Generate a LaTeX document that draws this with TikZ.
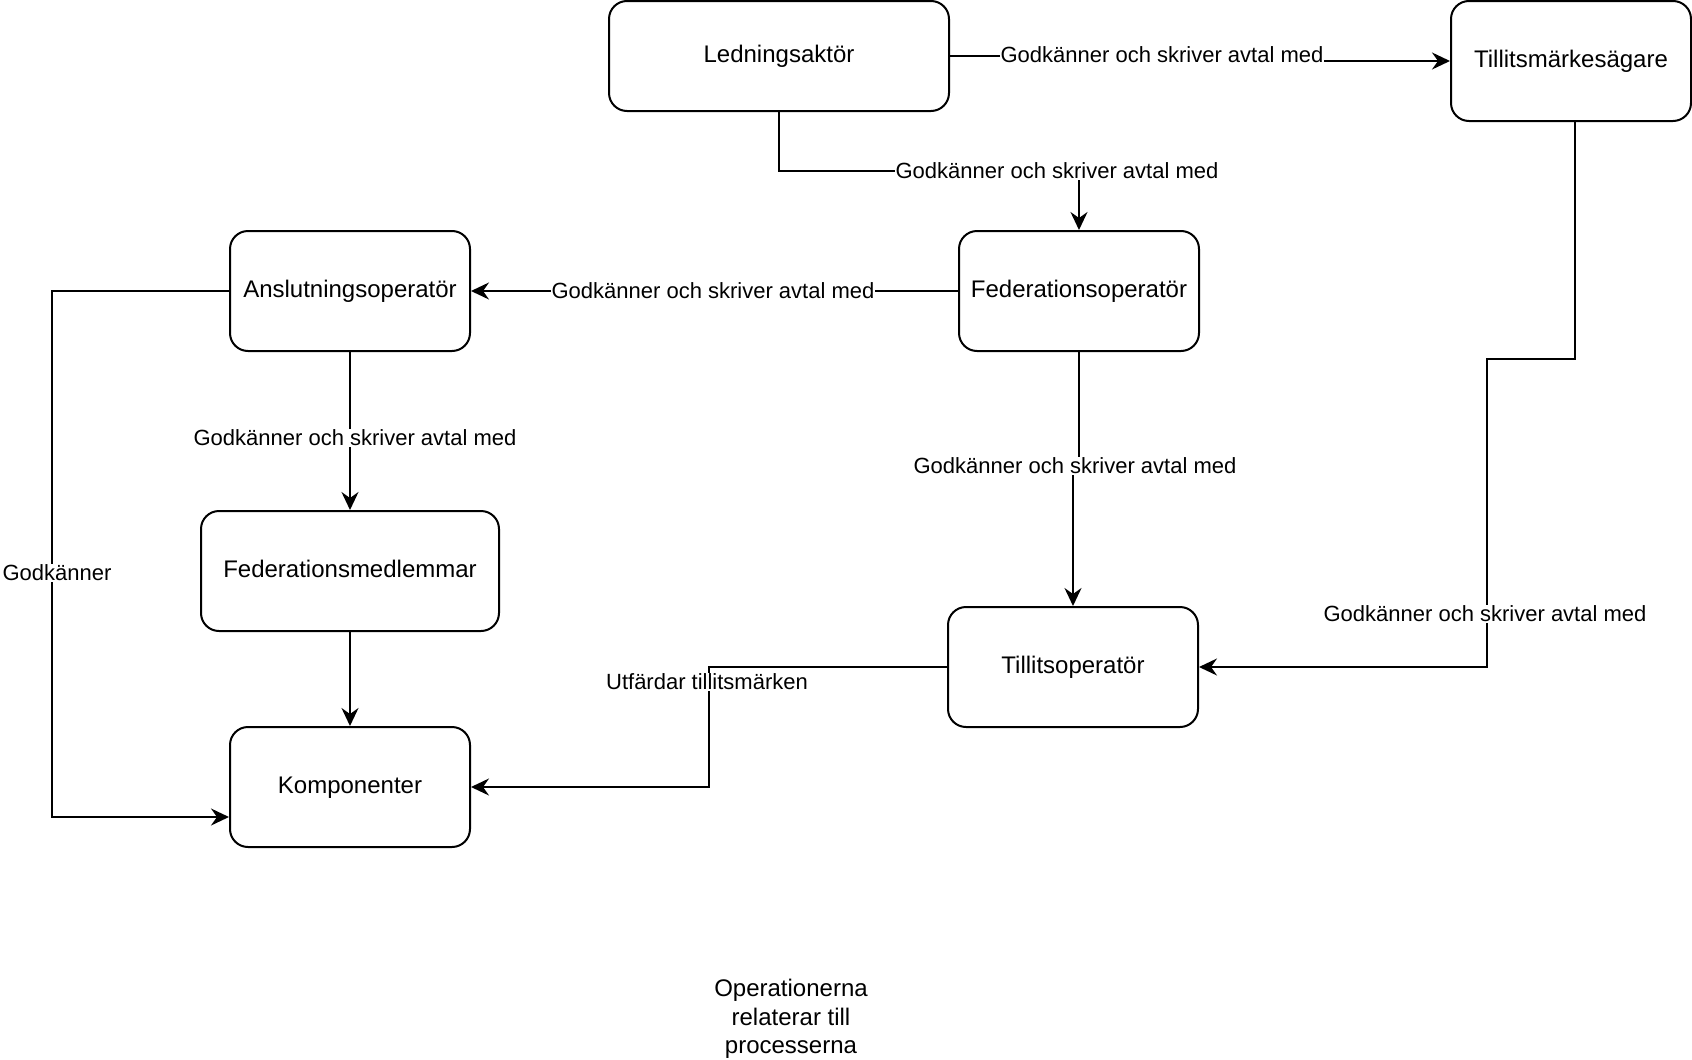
\documentclass[tikz,border=0pt]{standalone}
\usepackage{fontspec}
\setmainfont{Liberation Sans}
\usetikzlibrary{arrows.meta,calc}
\begin{document}
\begin{tikzpicture}[x=1pt,y=-1pt,
  box/.style={draw=black, line width=2pt, rounded corners=18pt, minimum height=120pt, inner sep=0pt, font=\fontsize{24}{28}\selectfont, fill=white, text height=17pt, text depth=5pt},
  conn/.style={line width=2pt, -{Stealth[length=18pt,width=17pt,inset=6pt]}},
  elabel/.style={fill=white, inner sep=1pt, font=\fontsize{22}{26}\selectfont}]
\fill[white] (0,0) rectangle (1692,1060);
\useasboundingbox (0,0) rectangle (1692,1060);

% boxes
\node[box, minimum width=340pt, minimum height=110pt] (L) at (779,56) {Ledningsaktör};
\node[box, minimum width=240pt] (T) at (1571,61) {Tillitsmärkesägare};
\node[box, minimum width=240pt] (A) at (350,291) {Anslutningsoperatör};
\node[box, minimum width=240pt] (F) at (1079,291) {Federationsoperatör};
\node[box, minimum width=298pt] (M) at (350,571) {Federationsmedlemmar};
\node[box, minimum width=240pt] (K) at (350,787) {Komponenter};
\node[box, minimum width=250pt] (O) at (1073,667) {Tillitsoperatör};
\node[align=center, font=\fontsize{24}{28.5}\selectfont] (note) at (791,1019) {Operationerna\\relaterar till\\processerna};

% connectors
\draw[conn] (L.east) -- (1162,56) -- (1162,61) -- (T.west);
\node[elabel] (l1) at (1162,55) {Godkänner och skriver avtal med};

\draw[conn] (L.south) -- (779,171) -- (1079,171) -- (F.north);
\node[elabel] (l2) at (1057,171) {Godkänner och skriver avtal med};

\draw[conn] (F.west) -- (A.east);
\node[elabel] (l3) at (713,291) {Godkänner och skriver avtal med};

\draw[conn] (F.south) -- (1079,466) -- (1073,466) -- (O.north);
\node[elabel] (l4) at (1075,466) {Godkänner och skriver avtal med};

\draw[conn] ($(T.south)+(4,0)$) -- (1575,359) -- (1487,359) -- (1487,667) -- (O.east);
\node[elabel] (l5) at (1485,614) {Godkänner och skriver avtal med};

\draw[conn] (A.south) -- (M.north);
\node[elabel] (l6) at (355,438) {Godkänner och skriver avtal med};

\draw[conn] (A.west) -- (52,291) -- (52,817) -- ($(K.west)+(0,30)$);
\node[elabel] (l7) at (57,573) {Godkänner};

\draw[conn] (M.south) -- (K.north);

\draw[conn] (O.west) -- (709,667) -- (709,787) -- (K.east);
\node[elabel] (l8) at (707,682) {Utfärdar tillitsmärken};
\end{tikzpicture}
\end{document}
